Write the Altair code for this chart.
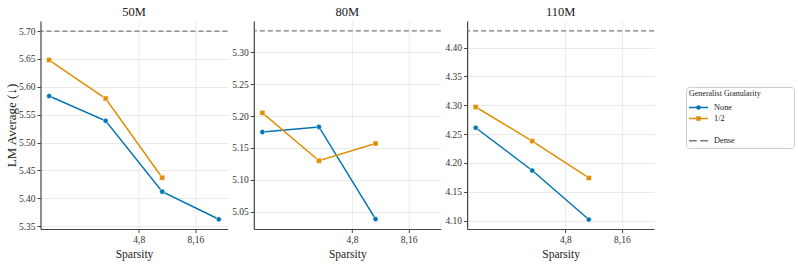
import altair as alt
import pandas as pd

panels = ["50M", "80M", "110M"]
sparsity = [2, 4, 8, 16]
none_vals = {
    "50M": [5.5835, 5.539, 5.412, 5.3625],
    "80M": [5.175, 5.183, 5.0386],
    "110M": [4.261, 4.187, 4.102],
}
half_vals = {
    "50M": [5.648, 5.579, 5.437],
    "80M": [5.205, 5.130, 5.157],
    "110M": [4.297, 4.238, 4.174],
}
dense_vals = {"50M": 5.70, "80M": 5.3334, "110M": 4.429}
y_domains = {"50M": [5.345, 5.718], "80M": [5.023, 5.349], "110M": [4.0856, 4.446]}
y_ticks = {
    "50M": [5.35, 5.40, 5.45, 5.50, 5.55, 5.60, 5.65, 5.70],
    "80M": [5.05, 5.10, 5.15, 5.20, 5.25, 5.30],
    "110M": [4.10, 4.15, 4.20, 4.25, 4.30, 4.35, 4.40],
}
x_tick_values = [6, 12]
x_tick_labels = ["4,8", "8,16"]

series_domain = ["None", "1/2", " ", "Dense"]
series_colors = ["#0173b2", "#de8f05", "transparent", "#7a7a7a"]
legend_shapes = [
    "M-1,-0.15H2.8V0.15H-1Z M1.35,0A0.45,0.45 0 1,1 0.45,0A0.45,0.45 0 1,1 1.35,0Z",
    "M-1,-0.15H2.8V0.15H-1Z M0.45,-0.45H1.35V0.45H0.45Z",
    "M0,0Z",
    "M-1,-0.14H0.55V0.14H-1Z M1.25,-0.14H2.8V0.14H1.25Z",
]

FONT = "Liberation Serif"

label_expr = " : ".join(
    f"datum.value == {v} ? '{l}'" for v, l in zip(x_tick_values, x_tick_labels)
) + " : ''"

LEGEND = alt.Legend(
    orient="none", legendX=645.5, legendY=66,
    symbolStrokeWidth=0, symbolSize=100, symbolOpacity=1,
)
LEG_TITLE = "Generalist Granularity" + "\u2800" * 5

color_scale = alt.Scale(domain=series_domain, range=series_colors)
x_scale = alt.Scale(type="log", base=2, domain=[1.8, 17.8], nice=False)


def color_enc():
    return alt.Color("series:N", scale=color_scale, title=LEG_TITLE, legend=LEGEND)


def panel(name, first):
    rows = []
    for s, v in zip(sparsity, none_vals[name]):
        rows.append({"sparsity": s, "value": v, "series": "None"})
    for s, v in zip(sparsity, half_vals[name]):
        rows.append({"sparsity": s, "value": v, "series": "1/2"})
    df = pd.DataFrame(rows)
    dense_df = pd.DataFrame({"value": [dense_vals[name]], "series": ["Dense"]})

    y_scale = alt.Scale(domain=y_domains[name], nice=False, zero=False)
    x_enc = alt.X(
        "sparsity:Q",
        scale=x_scale,
        title="Sparsity",
        axis=alt.Axis(values=x_tick_values, labelExpr=label_expr),
    )
    y_enc = alt.Y(
        "value:Q",
        scale=y_scale,
        title="LM Average (↓)" if first else None,
        axis=alt.Axis(values=y_ticks[name], format=".2f", labelOverlap=False),
    )
    base = alt.Chart(df)
    dense = alt.Chart(dense_df).mark_rule(strokeWidth=1.3, strokeDash=[5, 3]).encode(
        y=y_enc, color=color_enc(),
    )
    lines = base.mark_line(strokeWidth=1.5).encode(
        x=x_enc, y=y_enc, color=color_enc(), detail="series:N",
    )
    pts_none = base.transform_filter("datum.series == 'None'").mark_point(
        filled=True, shape="circle", size=26, stroke="white", strokeWidth=0.5, opacity=1
    ).encode(x=x_enc, y=y_enc, color=color_enc())
    pts_half = base.transform_filter("datum.series == '1/2'").mark_point(
        filled=True, shape="square", size=26, stroke="white", strokeWidth=0.5, opacity=1
    ).encode(x=x_enc, y=y_enc, color=color_enc())
    layers = [lines, dense, pts_none, pts_half]
    if first:
        leg = alt.Chart(df).transform_filter("false").mark_point(filled=True).encode(
            color=color_enc(),
            shape=alt.Shape(
                "series:N",
                scale=alt.Scale(domain=series_domain, range=legend_shapes),
                title=LEG_TITLE,
                legend=LEGEND,
            ),
        )
        layers.append(leg)
    return alt.layer(*layers).properties(
        width=187, height=208,
        title=alt.TitleParams(name, fontSize=12.5, font=FONT, fontWeight="normal",
                              color="#222", offset=3),
    )


chart = alt.hconcat(
    *[panel(n, i == 0) for i, n in enumerate(panels)], spacing=26.3, bounds="flush"
).configure(font=FONT).configure_view(stroke=None).configure_axis(
    labelFont=FONT, titleFont=FONT, labelFontSize=9.5, titleFontSize=11.5,
    titleFontWeight="normal", labelColor="#333", titleColor="#222",
    domainColor="#444", domainWidth=1.2, tickColor="#444", tickSize=3.5,
    gridColor="#e8e8e8", gridWidth=0.9, labelPadding=2, labelOverlap=False,
).configure_axisY(titleFontSize=13, titlePadding=0).configure_legend(
    titleFont=FONT, labelFont=FONT, titleFontSize=8, labelFontSize=8.3,
    titleFontWeight="normal", titleColor="#222", labelColor="#222",
    strokeColor="#cccccc", cornerRadius=3, padding=3, rowPadding=2.1,
    fillColor="white", titlePadding=4.5, labelOffset=15,
).configure_title(font=FONT, fontWeight="normal").properties(
    padding={"left": 4.5, "right": 2, "top": 5, "bottom": 5}
)

chart.save("out.html", embed_options={"renderer": "svg", "actions": False})
